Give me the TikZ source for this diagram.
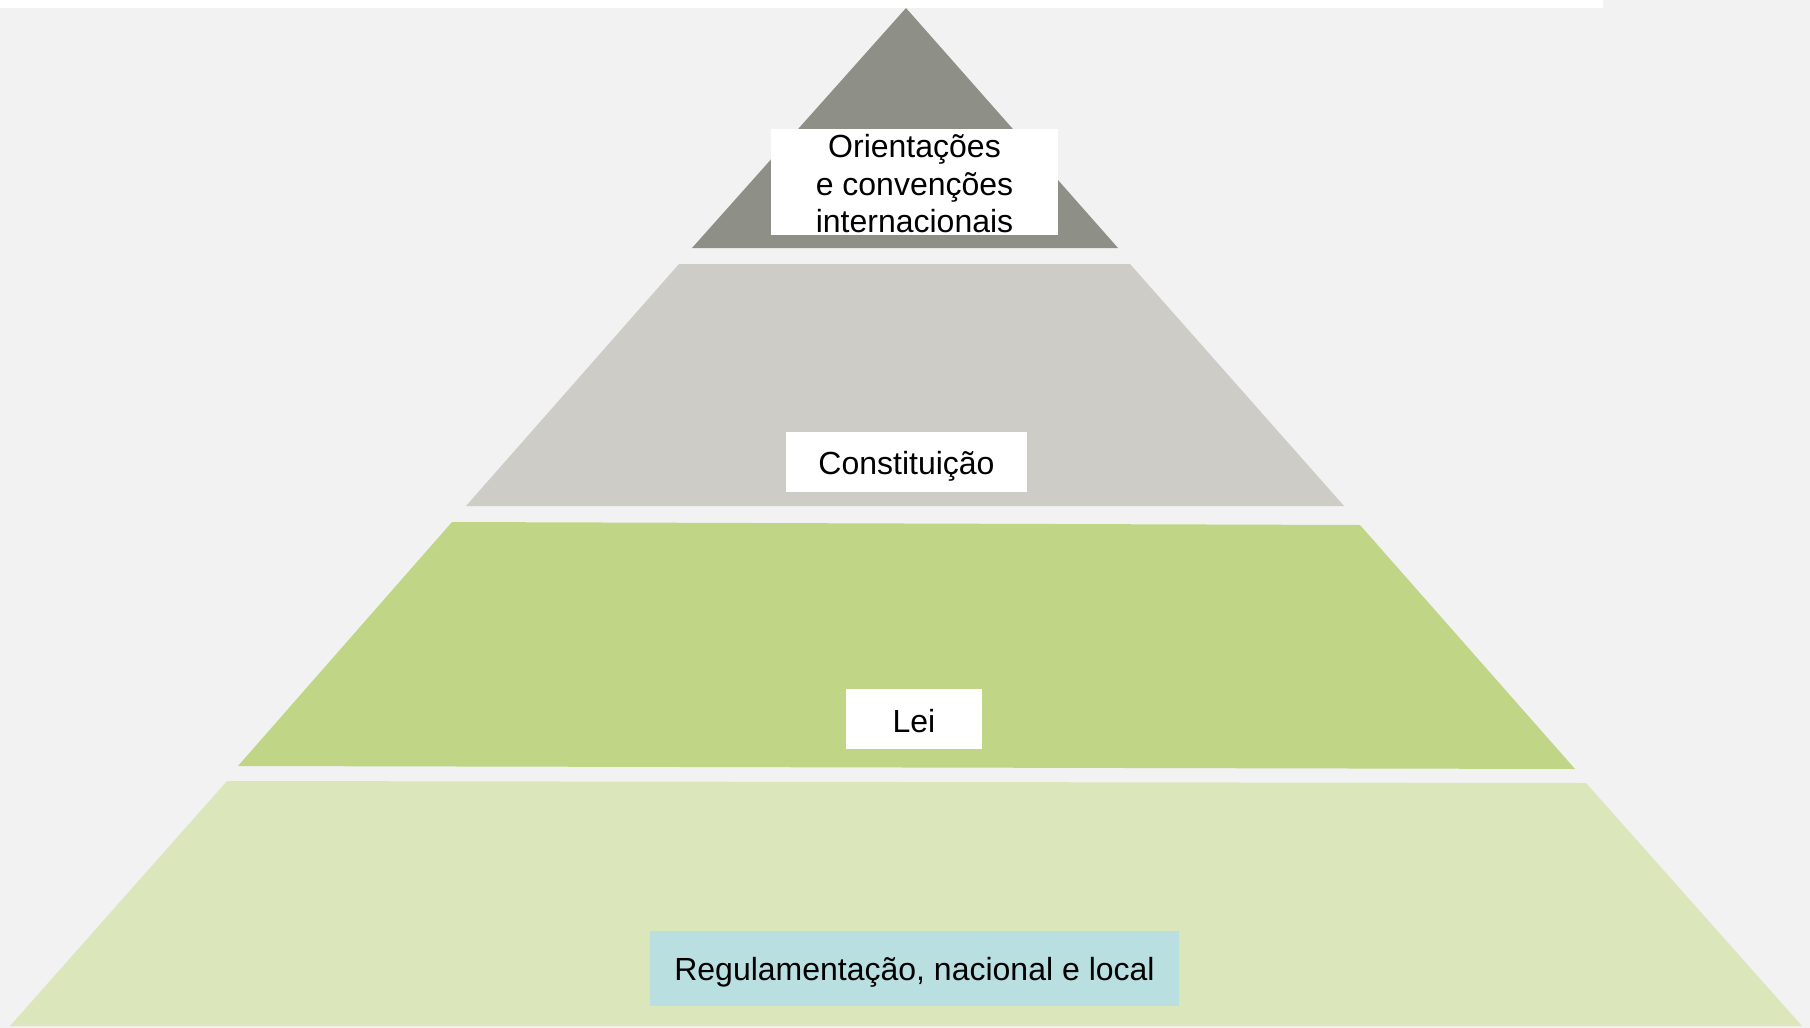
\documentclass[tikz,border=0pt]{standalone}
\usepackage{fontspec}
\setmainfont{Liberation Sans}
\definecolor{bg}{HTML}{F2F2F2}
\definecolor{lvltop}{HTML}{8E8F86}
\definecolor{lvltwo}{HTML}{CDCCC7}
\definecolor{lvlthree}{HTML}{C0D686}
\definecolor{lvlfour}{HTML}{DBE7BA}
\definecolor{regbox}{HTML}{B9DFE1}
\newcommand{\lowr}[2]{\raisebox{-#1}[\height][\depth]{#2}}
\tikzset{
  lbl/.style={fill=white, inner sep=0pt, align=center, text=black,
    font=\fontsize{32}{37.5}\selectfont},
}
\begin{document}
\begin{tikzpicture}[x=1pt,y=-1pt]
\useasboundingbox (0,0) rectangle (1810,1028);
\fill[bg] (0,0) rectangle (1810,1028);
\fill[white] (0,0) rectangle (1603,8);
% pyramid levels
\fill[lvltop] (906,8) -- (1118,248) -- (692,248) -- cycle;
\fill[lvltwo] (679,264) -- (1130,264) -- (1344,506) -- (466,506) -- cycle;
\fill[lvlthree] (452,522) -- (1360,525) -- (1575,769) -- (238,766) -- cycle;
\fill[lvlfour] (227,781) -- (1586,783) -- (1802,1026) -- (10,1026) -- cycle;
% labels
\node[lbl, minimum width=287pt, minimum height=106pt] (intl) at (914.5,182)
  {\lowr{2pt}{Orientações}\\\lowr{2pt}{e convenções}\\\lowr{2pt}{internacionais}};
\node[lbl, minimum width=241pt, minimum height=60pt] (const) at (906.5,462) {\lowr{4pt}{Constituição}};
\node[lbl, minimum width=136pt, minimum height=60pt] (lei) at (914,719) {\lowr{2pt}{Lei}};
\node[lbl, fill=regbox, minimum width=529pt, minimum height=75pt] (reg) at (914.5,968)
  {\lowr{4pt}{Regulamentação, nacional e local}};
\end{tikzpicture}
\end{document}
